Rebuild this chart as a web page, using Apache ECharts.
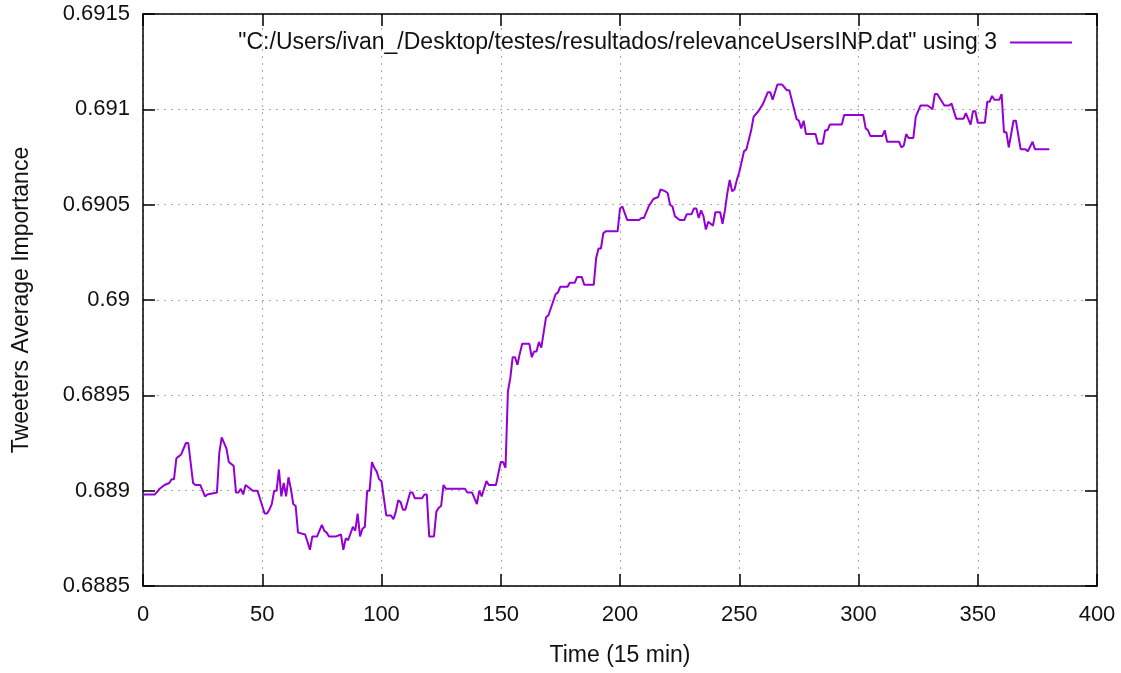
<!DOCTYPE html>
<html>
<head>
<meta charset="utf-8">
<title>relevanceUsersINP</title>
<script src="https://cdn.jsdelivr.net/npm/echarts/dist/echarts.min.js"></script>
<style>
  html, body { margin: 0; padding: 0; background: #ffffff; }
  #chart { width: 1121px; height: 673px; }
</style>
</head>
<body>
<div id="chart"></div>
<script>
  // x values (Time, 15 min steps)
  const timeArr = [
    0, 5, 7, 9, 11, 12, 13, 14, 15, 16, 18, 19, 21, 22, 24, 26, 27, 31, 32, 33,
    35, 36, 38, 39, 40, 41, 42, 43, 45, 46, 48, 49, 51, 52, 53, 54, 55, 56, 57, 58,
    59, 60, 61, 62, 63, 64, 65, 68, 70, 71, 73, 75, 76, 77, 78, 81, 83, 84, 85, 86,
    88, 89, 90, 91, 92, 93, 94, 95, 96, 97, 98, 99, 100, 102, 104, 105, 106, 107, 108, 109,
    110, 112, 113, 114, 117, 118, 119, 120, 122, 123, 124, 125, 126, 127, 135, 136, 138, 140, 141, 142,
    143, 144, 145, 148, 150, 151, 152, 153, 154, 155, 156, 157, 158, 159, 162, 163, 164, 165, 166, 167,
    169, 170, 173, 174, 175, 178, 179, 181, 182, 184, 185, 189, 190, 191, 192, 193, 194, 199, 200, 201,
    203, 208, 209, 210, 212, 214, 216, 217, 219, 220, 221, 222, 223, 225, 227, 228, 230, 231, 232, 233,
    234, 235, 236, 237, 238, 239, 240, 242, 243, 244, 245, 246, 247, 248, 249, 250, 252, 253, 255, 256,
    258, 259, 260, 262, 263, 264, 266, 268, 270, 271, 274, 275, 276, 277, 278, 282, 283, 285, 286, 287,
    288, 293, 294, 302, 303, 304, 305, 310, 311, 312, 317, 318, 319, 320, 321, 323, 324, 325, 326, 329,
    331, 332, 333, 336, 338, 339, 341, 344, 345, 347, 348, 349, 350, 353, 354, 355, 356, 357, 359, 360,
    361, 362, 363, 365, 366, 368, 370, 371, 373, 374, 380
  ]
  // y values (Tweeters Average Importance)
  const importanceArr = [
    0.68898, 0.68898, 0.68901, 0.68903, 0.68904, 0.68906, 0.68906, 0.68917, 0.68918, 0.68919,
    0.68925, 0.68925, 0.68904, 0.68903, 0.68903, 0.68897, 0.68898, 0.68899, 0.68920, 0.68928,
    0.68922, 0.68915, 0.68913, 0.68899, 0.68899, 0.68901, 0.68898, 0.68903, 0.68901, 0.68900,
    0.68900, 0.68896, 0.68888, 0.68888, 0.68890, 0.68893, 0.68900, 0.68900, 0.68911, 0.68897,
    0.68904, 0.68897, 0.68907, 0.68901, 0.68893, 0.68892, 0.68878, 0.68877, 0.68869, 0.68876,
    0.68876, 0.68882, 0.68879, 0.68878, 0.68876, 0.68876, 0.68877, 0.68869, 0.68875, 0.68874,
    0.68881, 0.68879, 0.68888, 0.68876, 0.68880, 0.68881, 0.68900, 0.68900, 0.68915, 0.68912,
    0.68910, 0.68906, 0.68905, 0.68887, 0.68887, 0.68885, 0.68889, 0.68895, 0.68894, 0.68890,
    0.68890, 0.68899, 0.68899, 0.68896, 0.68896, 0.68898, 0.68898, 0.68876, 0.68876, 0.68889,
    0.68891, 0.68892, 0.68903, 0.68901, 0.68901, 0.68899, 0.68899, 0.68893, 0.68900, 0.68897,
    0.68901, 0.68905, 0.68903, 0.68903, 0.68915, 0.68915, 0.68912, 0.68952, 0.68959, 0.68970,
    0.68970, 0.68966, 0.68972, 0.68977, 0.68977, 0.68970, 0.68973, 0.68973, 0.68978, 0.68975,
    0.68991, 0.68992, 0.69003, 0.69004, 0.69007, 0.69007, 0.69009, 0.69009, 0.69012, 0.69012,
    0.69008, 0.69008, 0.69022, 0.69027, 0.69027, 0.69035, 0.69036, 0.69036, 0.69048, 0.69049,
    0.69042, 0.69042, 0.69043, 0.69043, 0.69049, 0.69053, 0.69054, 0.69058, 0.69057, 0.69056,
    0.69050, 0.69049, 0.69044, 0.69042, 0.69042, 0.69045, 0.69045, 0.69048, 0.69048, 0.69043,
    0.69047, 0.69044, 0.69037, 0.69041, 0.69040, 0.69039, 0.69046, 0.69046, 0.69040, 0.69047,
    0.69056, 0.69063, 0.69057, 0.69058, 0.69063, 0.69067, 0.69078, 0.69079, 0.69089, 0.69096,
    0.69099, 0.69101, 0.69103, 0.69109, 0.69109, 0.69105, 0.69113, 0.69113, 0.69110, 0.69110,
    0.69095, 0.69094, 0.69090, 0.69094, 0.69087, 0.69087, 0.69082, 0.69082, 0.69089, 0.69089,
    0.69092, 0.69092, 0.69097, 0.69097, 0.69090, 0.69089, 0.69086, 0.69086, 0.69089, 0.69083,
    0.69083, 0.69080, 0.69081, 0.69087, 0.69085, 0.69085, 0.69096, 0.69099, 0.69102, 0.69102,
    0.69100, 0.69108, 0.69108, 0.69102, 0.69102, 0.69103, 0.69095, 0.69095, 0.69098, 0.69092,
    0.69099, 0.69099, 0.69093, 0.69093, 0.69104, 0.69104, 0.69107, 0.69105, 0.69105, 0.69108,
    0.69088, 0.69088, 0.69080, 0.69094, 0.69094, 0.69079, 0.69079, 0.69078, 0.69083, 0.69079,
    0.69079
  ]
  const seriesName = '"C:/Users/ivan_/Desktop/testes/resultados/relevanceUsersINP.dat" using 3'
  const xName = 'Time (15 min)'
  const yName = 'Tweeters Average Importance'

  const fontFamily = '"Liberation Sans", Arial, sans-serif'
  const textColor = '#111111'
  const lineColor = '#9400d3'
  const tickFont = 22   // tick labels
  const titleFont = 23  // axis names + key

  function initChart() {
    const chartInstance = echarts.init(document.getElementById('chart'), null, { renderer: 'canvas' })

    const seriesData = timeArr.map((t, i) => [t, importanceArr[i]])

    // gnuplot style: black border, ticks inside on all four sides, dotted grid
    const tickStyle = { show: true, inside: true, length: 12, lineStyle: { color: '#000', width: 1.5 } }
    const gridLine = { show: true, lineStyle: { color: '#a8a8a8', type: [2, 5], width: 1 } }
    const borderLine = { show: true, onZero: false, lineStyle: { color: '#000', width: 1.5 } }

    const option = {
      animation: false,
      backgroundColor: '#ffffff',
      grid: { left: 143, right: 24, top: 14, bottom: 87, containLabel: false },
      legend: {
        right: 44,
        top: 26,
        align: 'right',
        icon: 'rect',
        itemWidth: 62,
        itemHeight: 2,
        textStyle: { fontFamily: fontFamily, fontSize: titleFont, color: textColor, padding: [0, 8, 0, 0] },
        data: [seriesName]
      },
      xAxis: [
        {
          type: 'value',
          min: 0,
          max: 400,
          interval: 50,
          position: 'bottom',
          name: xName,
          nameLocation: 'middle',
          nameGap: 58,
          nameTextStyle: { fontFamily: fontFamily, fontSize: titleFont, color: textColor },
          axisLine: borderLine,
          axisTick: tickStyle,
          splitLine: gridLine,
          axisLabel: { fontFamily: fontFamily, fontSize: tickFont, color: textColor, margin: 18 }
        },
        {
          type: 'value',
          min: 0,
          max: 400,
          interval: 50,
          position: 'top',
          axisLine: borderLine,
          axisTick: tickStyle,
          splitLine: { show: false },
          axisLabel: { show: false }
        }
      ],
      yAxis: [
        {
          type: 'value',
          min: 0.6885,
          max: 0.6915,
          interval: 0.0005,
          position: 'left',
          name: yName,
          nameLocation: 'middle',
          nameRotate: 90,
          nameGap: 110,
          nameTextStyle: { fontFamily: fontFamily, fontSize: titleFont, color: textColor },
          axisLine: borderLine,
          axisTick: tickStyle,
          splitLine: gridLine,
          axisLabel: {
            fontFamily: fontFamily,
            fontSize: tickFont,
            color: textColor,
            margin: 13,
            formatter: v => String(+v.toFixed(4))
          }
        },
        {
          type: 'value',
          min: 0.6885,
          max: 0.6915,
          interval: 0.0005,
          position: 'right',
          axisLine: borderLine,
          axisTick: tickStyle,
          splitLine: { show: false },
          axisLabel: { show: false }
        }
      ],
      series: [
        {
          name: seriesName,
          type: 'line',
          xAxisIndex: 0,
          yAxisIndex: 0,
          data: seriesData,
          symbol: 'none',
          lineStyle: { color: lineColor, width: 2 },
          itemStyle: { color: lineColor }
        }
      ]
    }
    chartInstance.setOption(option)
  }

  initChart()
</script>
</body>
</html>
